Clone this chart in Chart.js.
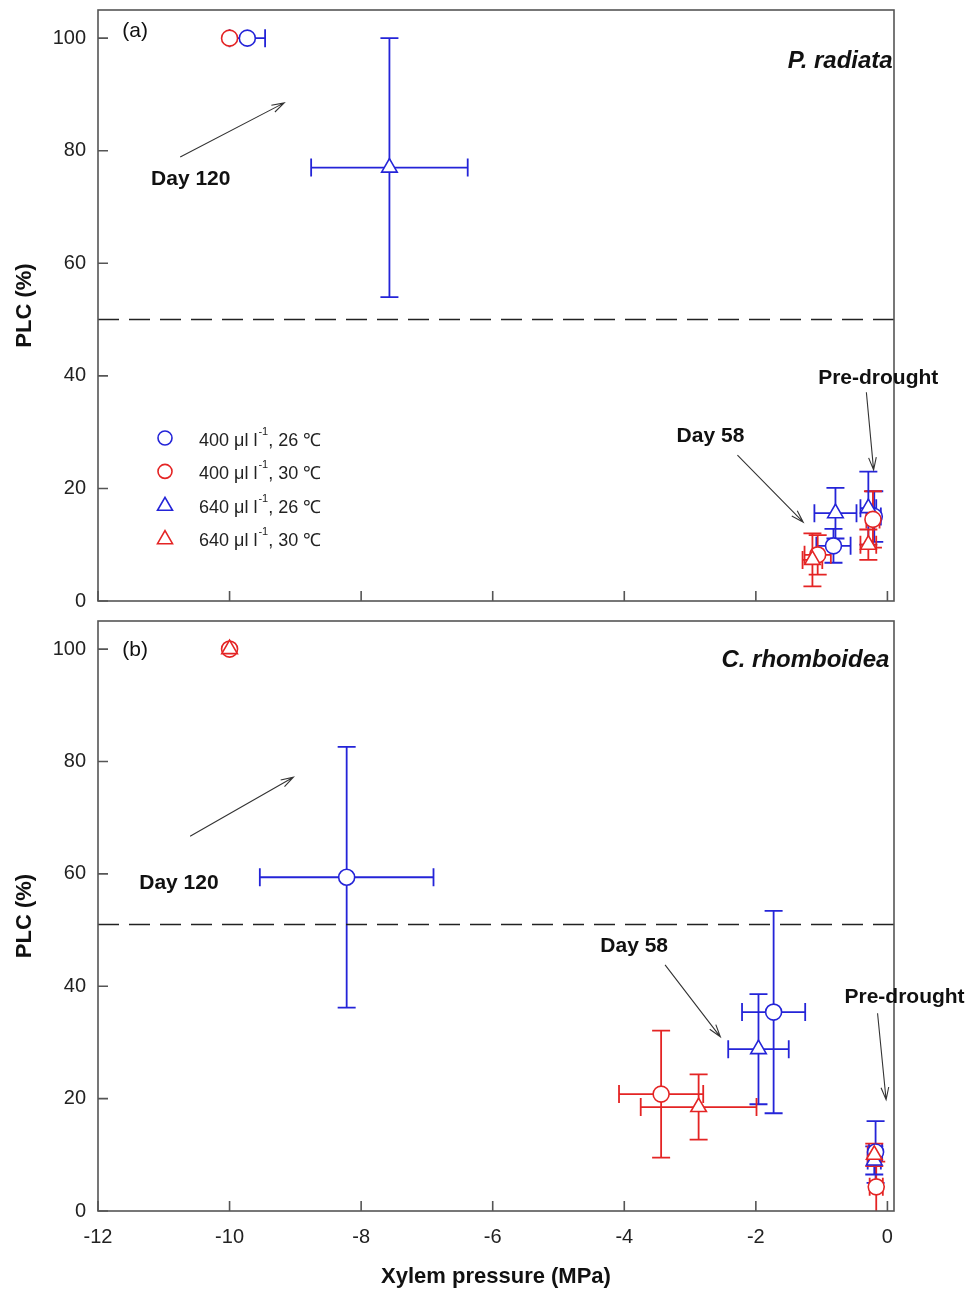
<!DOCTYPE html>
<html>
<head>
<meta charset="utf-8">
<title>PLC vs xylem pressure</title>
<script src="https://cdn.jsdelivr.net/npm/chart.js@4.4.1/dist/chart.umd.min.js"></script>
<style>
  body { margin: 0; background: #fff; width: 972px; height: 1291px; overflow: hidden; position: relative; }
  canvas { position: absolute; left: 0; }
  #chartA { top: -14px; }
  #chartB { top: 597px; }
</style>
</head>
<body>
<canvas id="chartA" width="972" height="639"></canvas>
<canvas id="chartB" width="972" height="694"></canvas>
<script>
// Each row: [xylem pressure (MPa), PLC (%), x error, y error]
// (a) P. radiata
const radiata400_26 = [[-9.73, 100, 0.27, 0], [-0.82, 9.8, 0.26, 3], [-0.2, 15, 0.1, 4.5]];
const radiata400_30 = [[-10, 100, 0, 0], [-1.06, 8.2, 0.2, 3.5], [-0.22, 14.5, 0.1, 5]];
const radiata640_26 = [[-7.57, 77, 1.19, 23], [-0.79, 15.6, 0.32, 4.5], [-0.29, 16.5, 0.12, 6.5]];
const radiata640_30 = [[-1.14, 7.3, 0.15, 4.7], [-0.29, 10, 0.12, 2.7]];

// (b) C. rhomboidea
const rhomb400_26 = [[-8.22, 59.4, 1.32, 23.2], [-1.73, 35.4, 0.48, 18], [-0.18, 10.5, 0.1, 5.5]];
const rhomb400_30 = [[-10, 100, 0, 0], [-3.44, 20.8, 0.64, 11.3], [-0.17, 4.3, 0.1, 4.5]];
const rhomb640_26 = [[-1.96, 28.8, 0.46, 9.8], [-0.2, 9, 0.1, 2.5]];
const rhomb640_30 = [[-10, 100, 0, 0], [-2.87, 18.5, 0.88, 5.8], [-0.2, 10, 0.1, 2]];

// 50 % loss reference lines
const thresholdA = 50;
const thresholdB = 51;

const xTicks = [-12, -10, -8, -6, -4, -2, 0];
const yTicks = [0, 20, 40, 60, 80, 100];

const seriesLabels = [
  ['400 \u03bcl l', '-1', ', 26 \u2103'],
  ['400 \u03bcl l', '-1', ', 30 \u2103'],
  ['640 \u03bcl l', '-1', ', 26 \u2103'],
  ['640 \u03bcl l', '-1', ', 30 \u2103']
];

const BLUE = '#2424d8';
const RED = '#e42424';
const seriesColors = [BLUE, RED, BLUE, RED];
const seriesShapes = ['circle', 'circle', 'triangle', 'triangle'];
const seriesRadius = [8, 8, 9, 9];
const seriesOrder = [3, 1, 2, 0]; // red drawn above blue
const FONT = 'Arial, "Liberation Sans", sans-serif';

function buildDatasets(rowsList) {
  return rowsList.map((rows, i) => ({
    label: seriesLabels[i].join(''),
    data: rows.map(r => ({ x: r[0], y: r[1], xErr: r[2], yErr: r[3] })),
    pointStyle: seriesShapes[i],
    pointRadius: seriesRadius[i],
    pointHoverRadius: seriesRadius[i],
    borderColor: seriesColors[i],
    backgroundColor: '#fff',
    borderWidth: 1.6,
    order: seriesOrder[i]
  }));
}

// error bars, drawn under the markers
const errorBars = {
  id: 'errorBars',
  beforeDatasetsDraw(chart) {
    const { ctx, chartArea: a, scales: { x, y } } = chart;
    const cap = 9;
    ctx.save();
    ctx.beginPath();
    ctx.rect(a.left, a.top, a.width, a.height);
    ctx.clip();
    ctx.lineWidth = 1.8;
    chart.data.datasets.forEach(ds => {
      ctx.strokeStyle = ds.borderColor;
      ds.data.forEach(p => {
        const px = x.getPixelForValue(p.x), py = y.getPixelForValue(p.y);
        ctx.beginPath();
        if (p.xErr) {
          const l = x.getPixelForValue(p.x - p.xErr), r = x.getPixelForValue(p.x + p.xErr);
          ctx.moveTo(l, py); ctx.lineTo(r, py);
          ctx.moveTo(l, py - cap); ctx.lineTo(l, py + cap);
          ctx.moveTo(r, py - cap); ctx.lineTo(r, py + cap);
        }
        if (p.yErr) {
          const t = y.getPixelForValue(p.y + p.yErr), b = y.getPixelForValue(p.y - p.yErr);
          ctx.moveTo(px, t); ctx.lineTo(px, b);
          ctx.moveTo(px - cap, t); ctx.lineTo(px + cap, t);
          ctx.moveTo(px - cap, b); ctx.lineTo(px + cap, b);
        }
        ctx.stroke();
      });
    });
    ctx.restore();
  }
};

// frame, inward ticks, dashed line, notes, legend
const decorations = {
  id: 'decorations',
  beforeDatasetsDraw(chart, args, opts) {
    const { ctx, chartArea: a, scales: { y } } = chart;
    const yy = y.getPixelForValue(opts.threshold);
    ctx.save();
    ctx.strokeStyle = '#222';
    ctx.lineWidth = 1.6;
    ctx.setLineDash([21, 10]);
    ctx.beginPath();
    ctx.moveTo(a.left, yy); ctx.lineTo(a.right, yy);
    ctx.stroke();
    ctx.restore();
  },
  afterDraw(chart, args, opts) {
    const { ctx, chartArea: a, scales: { x, y } } = chart;
    ctx.save();
    ctx.strokeStyle = '#555';
    ctx.lineWidth = 1.6;
    ctx.strokeRect(a.left, a.top, a.width, a.height);
    ctx.beginPath();
    xTicks.forEach(v => {
      const px = x.getPixelForValue(v);
      ctx.moveTo(px, a.bottom); ctx.lineTo(px, a.bottom - 10);
    });
    yTicks.forEach(v => {
      const py = y.getPixelForValue(v);
      ctx.moveTo(a.left, py); ctx.lineTo(a.left + 10, py);
    });
    ctx.stroke();

    // arrows
    ctx.strokeStyle = '#333';
    ctx.lineWidth = 1.1;
    opts.arrows.forEach(ar => {
      const x1 = x.getPixelForValue(ar[0]), y1 = y.getPixelForValue(ar[1]);
      const x2 = x.getPixelForValue(ar[2]), y2 = y.getPixelForValue(ar[3]);
      const ang = Math.atan2(y2 - y1, x2 - x1);
      const h = 13, spread = 0.3;
      ctx.beginPath();
      ctx.moveTo(x1, y1); ctx.lineTo(x2, y2);
      ctx.moveTo(x2 - h * Math.cos(ang - spread), y2 - h * Math.sin(ang - spread));
      ctx.lineTo(x2, y2);
      ctx.lineTo(x2 - h * Math.cos(ang + spread), y2 - h * Math.sin(ang + spread));
      ctx.stroke();
    });

    // text notes
    ctx.fillStyle = '#111';
    ctx.textBaseline = 'middle';
    opts.notes.forEach(n => {
      ctx.font = n.font;
      ctx.textAlign = n.align;
      ctx.fillText(n.text, x.getPixelForValue(n.x), y.getPixelForValue(n.y));
    });

    // legend
    if (opts.legend) {
      seriesLabels.forEach((parts, i) => {
        const mx = a.left + 67, my = a.top + 428 + i * 33.4;
        ctx.strokeStyle = seriesColors[i];
        ctx.lineWidth = 1.6;
        ctx.beginPath();
        if (seriesShapes[i] === 'circle') {
          ctx.arc(mx, my, 7, 0, Math.PI * 2);
        } else {
          ctx.moveTo(mx, my - 7.5); ctx.lineTo(mx + 7.5, my + 5.5); ctx.lineTo(mx - 7.5, my + 5.5); ctx.closePath();
        }
        ctx.stroke();
        ctx.fillStyle = '#222';
        ctx.textAlign = 'left';
        let tx = a.left + 101;
        ctx.font = '18px ' + FONT;
        ctx.fillText(parts[0], tx, my + 3);
        tx += ctx.measureText(parts[0]).width + 1;
        ctx.font = '11px ' + FONT;
        ctx.fillText(parts[1], tx, my - 6);
        tx += ctx.measureText(parts[1]).width;
        ctx.font = '18px ' + FONT;
        ctx.fillText(parts[2], tx, my + 3);
      });
    }
    ctx.restore();
  }
};

function makeChart(id, rowsList, showX, threshold, notes, arrows, legend, xHeight) {
  return new Chart(document.getElementById(id), {
    type: 'scatter',
    data: { datasets: buildDatasets(rowsList) },
    options: {
      responsive: false,
      animation: false,
      layout: { padding: { top: 0, right: 78, left: 0, bottom: 0 } },
      scales: {
        x: {
          type: 'linear',
          min: -12, max: 0.1,
          grid: { display: false, drawTicks: false },
          border: { display: false },
          ticks: {
            display: showX, stepSize: 2, includeBounds: false, padding: 14,
            color: '#222', font: { size: 20, family: FONT }
          },
          title: {
            display: showX, text: 'Xylem pressure (MPa)', color: '#111',
            font: { size: 22, weight: 'bold', family: FONT }, padding: { top: 0, bottom: 1 }
          },
          afterFit: s => { s.height = xHeight; }
        },
        y: {
          min: 0, max: 105,
          grid: { display: false, drawTicks: false },
          border: { display: false },
          ticks: {
            stepSize: 20, includeBounds: false, padding: 12,
            color: '#222', font: { size: 20, family: FONT }
          },
          title: {
            display: true, text: 'PLC (%)', color: '#111',
            font: { size: 22, weight: 'bold', family: FONT }, padding: { top: 12, bottom: 0 }
          },
          afterFit: s => { s.width = 98; }
        }
      },
      plugins: {
        legend: { display: false },
        tooltip: { enabled: false },
        decorations: { threshold, notes, arrows, legend }
      }
    },
    plugins: [errorBars, decorations]
  });
}

const boldNote = 'bold 21px ' + FONT;
const speciesFont = 'italic bold 24px ' + FONT;
const panelFont = '21px ' + FONT;

makeChart('chartA',
  [radiata400_26, radiata400_30, radiata640_26, radiata640_30],
  false, thresholdA,
  [
    { text: '(a)', x: -11.63, y: 101.2, align: 'left', font: panelFont },
    { text: 'P. radiata', x: 0.08, y: 95.8, align: 'right', font: speciesFont },
    { text: 'Day 120', x: -10.59, y: 75.0, align: 'center', font: boldNote },
    { text: 'Day 58', x: -2.69, y: 29.3, align: 'center', font: boldNote },
    { text: 'Pre-drought', x: -0.14, y: 39.6, align: 'center', font: boldNote }
  ],
  [
    [-10.75, 78.9, -9.17, 88.5],
    [-2.28, 25.9, -1.28, 14.0],
    [-0.32, 37.1, -0.21, 23.3]
  ],
  true, 11);

makeChart('chartB',
  [rhomb400_26, rhomb400_30, rhomb640_26, rhomb640_30],
  true, thresholdB,
  [
    { text: '(b)', x: -11.63, y: 99.8, align: 'left', font: panelFont },
    { text: 'C. rhomboidea', x: 0.03, y: 98.0, align: 'right', font: speciesFont },
    { text: 'Day 120', x: -10.77, y: 58.4, align: 'center', font: boldNote },
    { text: 'Day 58', x: -3.85, y: 47.2, align: 'center', font: boldNote },
    { text: 'Pre-drought', x: 0.26, y: 38.1, align: 'center', font: boldNote }
  ],
  [
    [-10.60, 66.7, -9.03, 77.2],
    [-3.38, 43.8, -2.54, 31.0],
    [-0.15, 35.2, -0.02, 19.8]
  ],
  false, 80);
</script>
</body>
</html>
